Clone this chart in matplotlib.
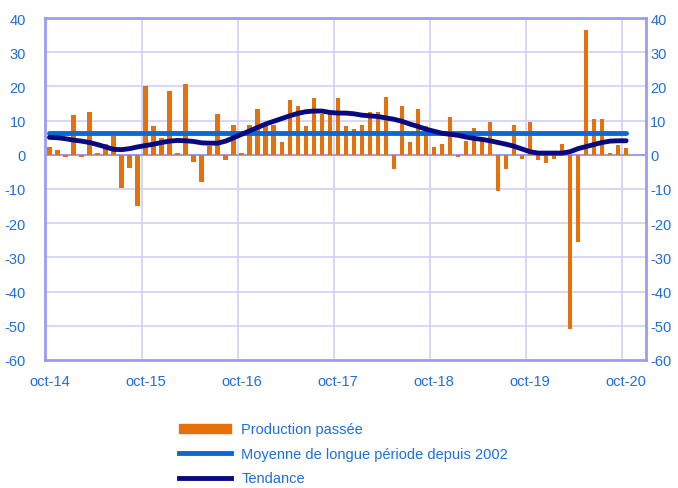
import matplotlib
matplotlib.use('Agg')
import matplotlib.pyplot as plt
import matplotlib.patches as mpatches
from matplotlib.lines import Line2D

plt.rcParams['font.family'] = ['Liberation Sans', 'DejaVu Sans']
plt.rcParams['axes.unicode_minus'] = False

# mensuel, oct-14 .. oct-20
production = [2.4, 1.5, -0.7, 11.6, -0.7, 12.4, 0.6, 3.3, 5.6, -9.7, -3.9, -15.1,
              20.1, 8.3, 4.8, 18.8, 0.6, 20.6, -2.0, -7.9, 2.6, 11.9, -1.6, 8.8,
              0.6, 8.8, 13.4, 8.5, 8.8, 3.8, 16.1, 14.2, 8.3, 16.5, 11.9, 11.9,
              16.5, 8.3, 7.5, 8.8, 12.4, 12.4, 17.0, -4.2, 14.2, 3.8, 13.4, 8.5,
              2.4, 3.3, 11.0, -0.6, 4.1, 7.9, 4.1, 9.6, -10.6, -4.3, 8.8, -1.1,
              9.6, -1.6, -2.4, -1.1, 3.3, -51.0, -25.6, 36.5, 10.6, 10.6, 0.6, 2.8,
              1.9]
tendance = [5.1, 5.0, 4.7, 4.3, 4.0, 3.6, 3.0, 2.3, 1.6, 1.5, 1.8, 2.3,
            2.7, 3.1, 3.6, 4.0, 4.2, 4.1, 3.9, 3.5, 3.4, 3.4, 4.0, 5.0,
            6.0, 7.0, 8.0, 9.0, 9.8, 10.6, 11.4, 12.1, 12.6, 12.8, 12.8, 12.4,
            12.2, 12.2, 12.0, 11.6, 11.4, 11.2, 10.8, 10.4, 9.8, 9.0, 8.3, 7.5,
            6.9, 6.3, 6.0, 5.7, 5.2, 4.8, 4.5, 4.1, 3.6, 3.1, 2.5, 1.7,
            0.9, 0.5, 0.5, 0.5, 0.5, 0.9, 1.8, 2.4, 3.0, 3.6, 4.0, 4.1,
            4.1]
moyenne = 6.3
etiquettes = ['oct-14', 'oct-15', 'oct-16', 'oct-17', 'oct-18', 'oct-19', 'oct-20']

orange = '#e8700a'
bleu = '#0a6ad2'
marine = '#0a0a80'
texte = '#1f6fd6'
grille = '#cfd0f5'
cadre = '#9c9cf0'

fig = plt.figure(figsize=(6.78, 4.89), dpi=100)
ax = fig.add_axes([0.067, 0.262, 0.886, 0.699])

x = list(range(len(production)))
ax.bar(x, production, width=0.55, color=orange, zorder=3)
ax.plot([x[0], x[-1]], [moyenne, moyenne], color=bleu, lw=3.5, zorder=4,
        solid_capstyle='round')
ax.plot(x, tendance, color=marine, lw=3.5, zorder=5, solid_capstyle='round')

ax.set_xlim(-0.5, 74.5)
ax.set_ylim(-60, 40)
ax.set_yticks(range(-60, 41, 10))
ax.set_xticks([12 * k for k in range(7)])
ax.set_xticklabels(etiquettes)
for k in range(1, 7):
    ax.axvline(12 * k - 0.5, color=grille, lw=1.2, zorder=1)
for v in range(-50, 40, 10):
    ax.axhline(v, color=grille, lw=1.2, zorder=1)
ax.axhline(0, color=cadre, lw=1.5, zorder=2)

ax.tick_params(length=0, colors=texte, labelsize=10.5)
ax.tick_params(axis='x', pad=10)
ax.tick_params(axis='y', pad=14)
for s in ax.spines.values():
    s.set_color(cadre)
    s.set_linewidth(2)

ax2 = ax.twinx()
ax2.set_ylim(-60, 40)
ax2.set_yticks(range(-60, 41, 10))
ax2.tick_params(length=0, colors=texte, labelsize=10.5, pad=3)
for s in ax2.spines.values():
    s.set_visible(False)

handles = [mpatches.Patch(color=orange, label='Production passée'),
           Line2D([], [], color=bleu, lw=3.5, label='Moyenne de longue période depuis 2002'),
           Line2D([], [], color=marine, lw=3.5, label='Tendance')]
leg = fig.legend(handles=handles, loc='upper left', bbox_to_anchor=(0.255, 0.146),
                 frameon=False, fontsize=10.5, handlelength=3.6, handleheight=0.6,
                 labelspacing=0.72, handletextpad=0.7, borderaxespad=0)
for t in leg.get_texts():
    t.set_color(texte)

fig.savefig('out.png', dpi=100)
